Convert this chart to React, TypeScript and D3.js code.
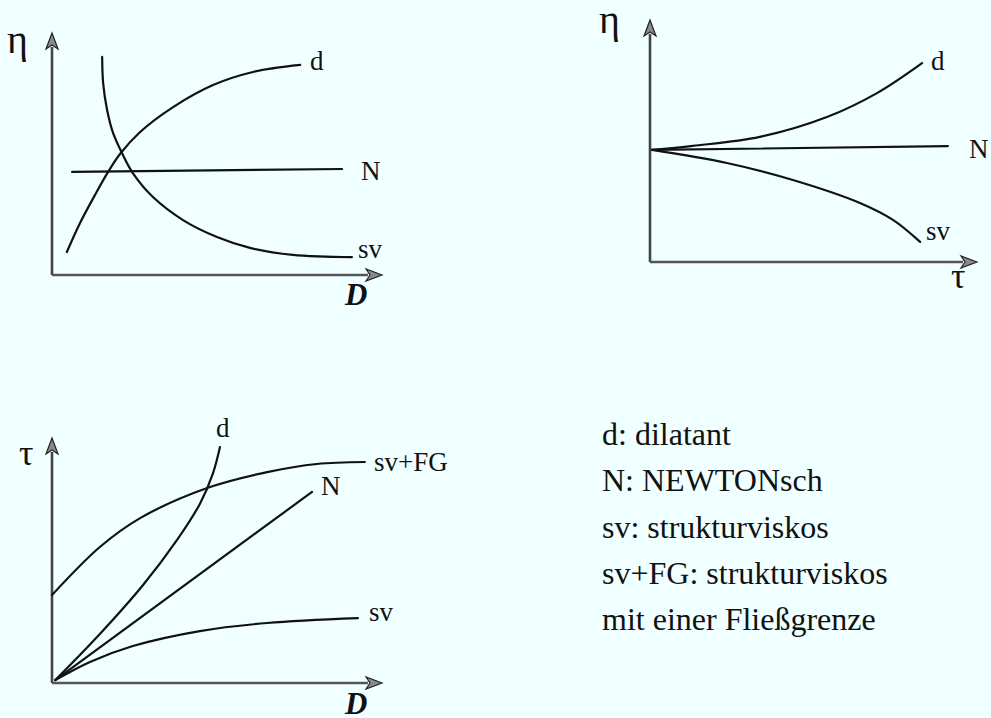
import React from "react";
import * as d3 from "d3";

// Flow curves in relative units (0..100 along each axis).
// Panel 1: viscosity η over shear rate D
const etaD_dilatant: [number, number][] = [
  [4.5, 9.5], [8.5, 21.5], [13.0, 33.0], [17.0, 42.6], [20.6, 50.0], [26.7, 59.1],
  [36.7, 69.4], [48.8, 78.5], [60.9, 83.9], [75.2, 86.8],
];
const etaD_strukturviskos: [number, number][] = [
  [15.2, 90.1], [15.5, 79.3], [16.7, 68.2], [18.5, 58.7], [21.2, 50.4], [24.5, 42.1],
  [30.6, 32.2], [39.7, 22.7], [50.0, 15.7], [60.0, 11.2], [73.0, 8.3], [90.9, 7.4],
];
const etaD_newton: [number, number][] = [[6.1, 42.6], [87.9, 43.8]];

// Panel 2: viscosity η over shear stress τ
const etaTau_dilatant: [number, number][] = [
  [0.6, 46.3], [13.1, 48.0], [33.6, 51.7], [54.1, 59.9], [69.4, 69.8], [83.2, 82.2],
];
const etaTau_strukturviskos: [number, number][] = [
  [0.6, 46.3], [23.5, 40.9], [43.7, 33.9], [64.2, 24.4], [74.3, 17.4], [82.6, 8.3],
];
const etaTau_newton: [number, number][] = [[0.6, 46.3], [91.1, 47.9]];

// Panel 3: shear stress τ over shear rate D
const tauD_dilatant: [number, number][] = [
  [1, 1.2], [14.5, 20.0], [27.6, 40.0], [37.9, 58.4], [44.8, 73.1], [48.8, 85.7], [50.9, 96.3],
];
const tauD_fliessgrenze: [number, number][] = [
  [0, 35.9], [14.5, 55.5], [26.7, 67.3], [47.0, 79.6], [65.2, 86.1],
  [80.3, 89.4], [94.8, 90.2],
];
const tauD_newton: [number, number][] = [[1, 1.2], [78.8, 78.0]];
const tauD_strukturviskos: [number, number][] = [
  [1, 1.2], [11.5, 8.6], [24.5, 15.1], [44.8, 21.2], [65.2, 24.5], [92.7, 26.5],
];

const legendLines = [
  "d: dilatant",
  "N: NEWTONsch",
  "sv: strukturviskos",
  "sv+FG: strukturviskos",
  "mit einer Fließgrenze",
];

const SERIF = "Liberation Serif, DejaVu Serif, Times New Roman, serif";
const BG = "#f0ffff";

type Pt = [number, number];
type CurveLabel = { text: string; x: number; y: number };
type Panel = {
  x0: number; xTip: number; y0: number; yTip: number;
  curves: Pt[][];
  labels: CurveLabel[];
  yLabel: { text: string; x: number; y: number; size: number };
  xLabel: { text: string; x: number; y: number; size: number; italicBold: boolean };
};

const panels: Panel[] = [
  {
    x0: 52, xTip: 382, y0: 275, yTip: 33,
    curves: [etaD_dilatant, etaD_strukturviskos, etaD_newton],
    labels: [
      { text: "d", x: 310, y: 70 },
      { text: "N", x: 361, y: 180 },
      { text: "sv", x: 358, y: 258 },
    ],
    yLabel: { text: "η", x: 7, y: 53, size: 40 },
    xLabel: { text: "D", x: 345, y: 305, size: 31, italicBold: true },
  },
  {
    x0: 650, xTip: 977, y0: 262, yTip: 20,
    curves: [etaTau_dilatant, etaTau_strukturviskos, etaTau_newton],
    labels: [
      { text: "d", x: 931, y: 70 },
      { text: "N", x: 969, y: 158 },
      { text: "sv", x: 926, y: 240 },
    ],
    yLabel: { text: "η", x: 599, y: 33, size: 40 },
    xLabel: { text: "τ", x: 951, y: 288, size: 36, italicBold: false },
  },
  {
    x0: 52, xTip: 382, y0: 683, yTip: 438,
    curves: [tauD_dilatant, tauD_fliessgrenze, tauD_newton, tauD_strukturviskos],
    labels: [
      { text: "d", x: 216, y: 437 },
      { text: "sv+FG", x: 374, y: 471 },
      { text: "N", x: 321, y: 495 },
      { text: "sv", x: 369, y: 621 },
    ],
    yLabel: { text: "τ", x: 19, y: 465, size: 36 },
    xLabel: { text: "D", x: 345, y: 714, size: 31, italicBold: true },
  },
];

function Arrow({ x, y, dir }: { x: number; y: number; dir: "up" | "right" }) {
  const L = 16, W = 6;
  const pts =
    dir === "up"
      ? [[x, y], [x - W, y + L], [x, y + L - 4], [x + W, y + L]]
      : [[x, y], [x - L, y - W], [x - L + 4, y], [x - L, y + W]];
  return (
    <path
      d={"M" + pts.map((p) => p.join(",")).join("L") + "Z"}
      fill="#8a8a8a"
      stroke="#222"
      strokeWidth={1.2}
      strokeLinejoin="miter"
    />
  );
}

function PanelView({ p }: { p: Panel }) {
  const x = d3.scaleLinear().domain([0, 100]).range([p.x0, p.xTip]);
  const y = d3.scaleLinear().domain([0, 100]).range([p.y0, p.yTip]);
  const line = d3
    .line<Pt>()
    .x((d) => x(d[0]))
    .y((d) => y(d[1]))
    .curve(d3.curveCatmullRom.alpha(0.5));
  const tipOff = 14;
  return (
    <g>
      <line x1={x(0)} y1={y(0)} x2={x(0)} y2={y(100) + tipOff} stroke="#444" strokeWidth={2.6} />
      <line x1={x(0)} y1={y(0)} x2={x(100) - tipOff} y2={y(0)} stroke="#555" strokeWidth={2.6} />
      <Arrow x={x(0)} y={y(100)} dir="up" />
      <Arrow x={x(100)} y={y(0)} dir="right" />
      {p.curves.map((c, i) => (
        <path key={i} d={line(c) || ""} fill="none" stroke="#111" strokeWidth={2.2} strokeLinecap="round" />
      ))}
      {p.labels.map((l, i) => (
        <text key={i} x={l.x} y={l.y} style={{ fontFamily: SERIF }} fontSize={27} fill="#111">
          {l.text}
        </text>
      ))}
      <text x={p.yLabel.x} y={p.yLabel.y} style={{ fontFamily: SERIF }} fontSize={p.yLabel.size} fill="#111">
        {p.yLabel.text}
      </text>
      <text
        x={p.xLabel.x}
        y={p.xLabel.y}
        style={{ fontFamily: SERIF }}
        fontSize={p.xLabel.size}
        fontStyle={p.xLabel.italicBold ? "italic" : "normal"}
        fontWeight={p.xLabel.italicBold ? "bold" : "normal"}
        fill="#111"
      >
        {p.xLabel.text}
      </text>
    </g>
  );
}

export default function App() {
  const legendBase = 445;
  const legendStep = 46.3;
  return (
    <svg
      width={991}
      height={718}
      style={{ position: "absolute", left: 0, top: 0, display: "block", background: BG }}
    >
      <rect width={991} height={718} fill={BG} />
      {panels.map((p, i) => (
        <PanelView key={i} p={p} />
      ))}
      {legendLines.map((t, i) => (
        <text key={i} x={602} y={legendBase + i * legendStep} style={{ fontFamily: SERIF }} fontSize={32} fill="#111">
          {t}
        </text>
      ))}
    </svg>
  );
}
